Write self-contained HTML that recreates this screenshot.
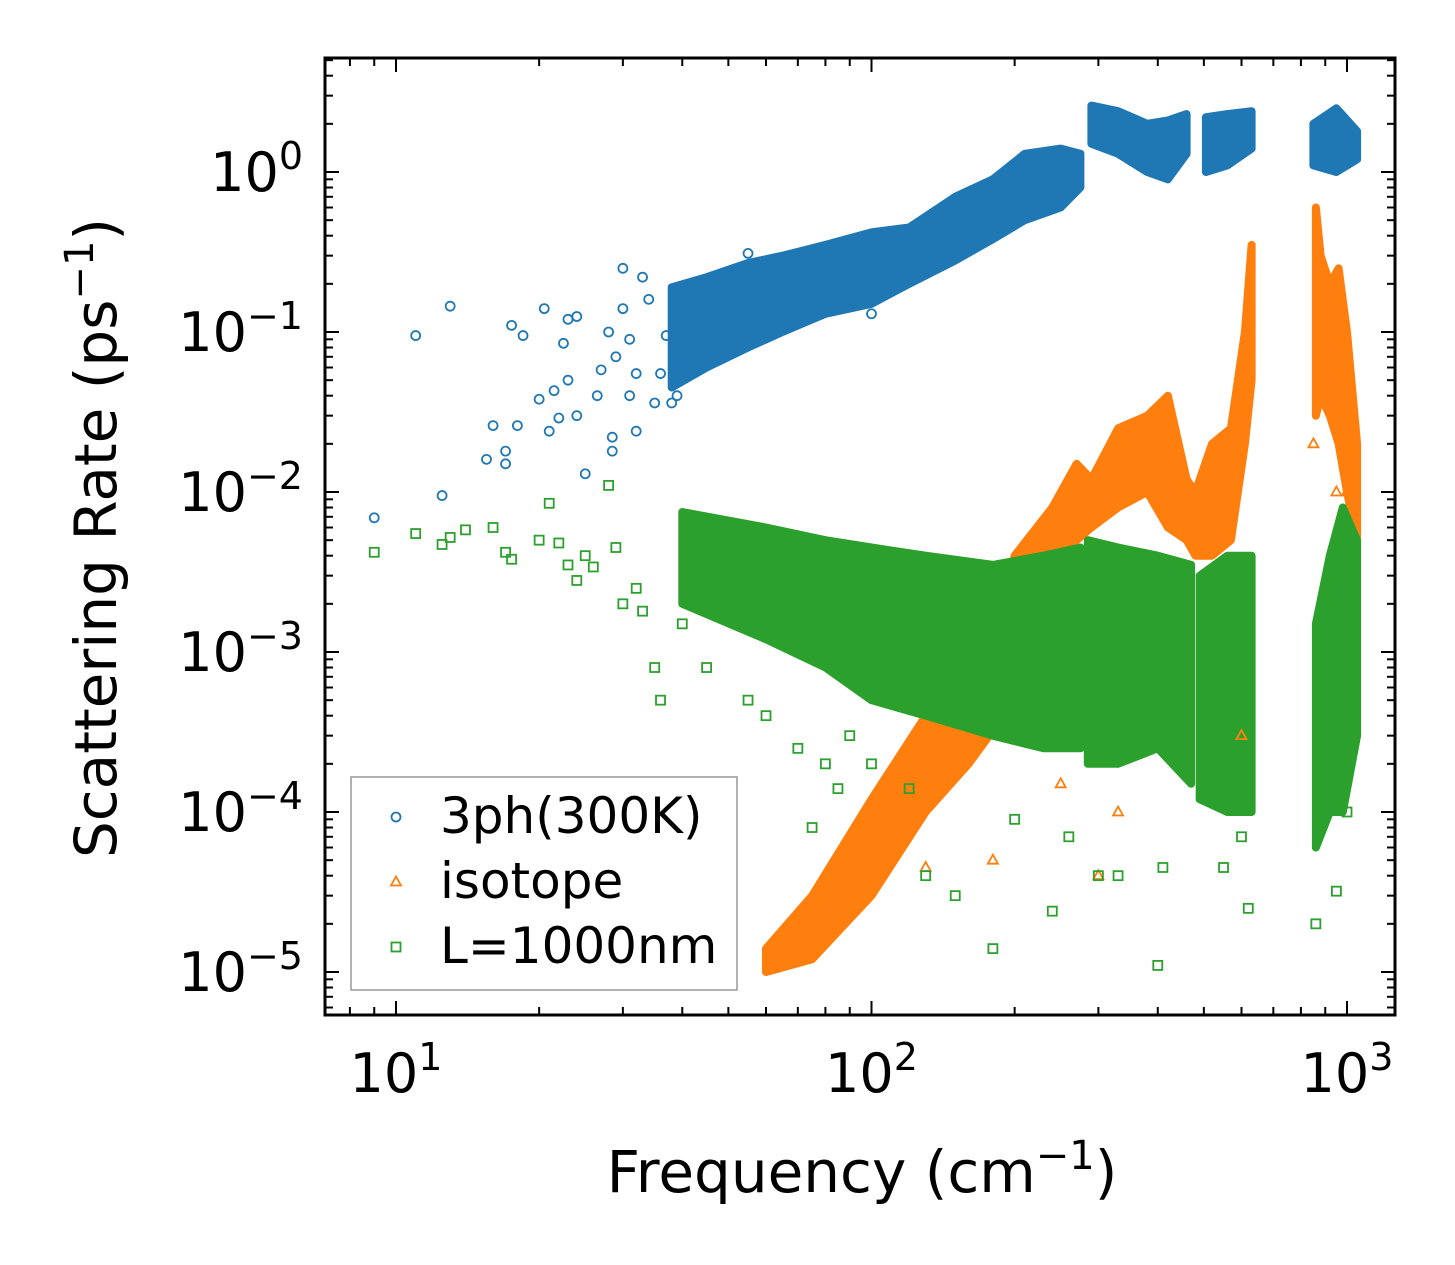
<!DOCTYPE html>
<html><head><meta charset="utf-8"><style>
html,body{margin:0;padding:0;background:#fff;}
svg{display:block;font-family:"DejaVu Sans","Liberation Sans",sans-serif;}
</style></head>
<body>
<svg id="chart" width="1455" height="1265" viewBox="0 0 1455 1265" xmlns="http://www.w3.org/2000/svg">
<rect width="1455" height="1265" fill="#fff"/>
<g id="bands"></g>
<g id="points"></g>
<g id="axes"></g>
<g id="legend"></g>
</svg>
<script>
// ---- data (frequency cm^-1, rate ps^-1) ----
const blueBands = [
  [[38,0.045,0.19],[45,0.06,0.22],[55,0.08,0.27],[65,0.1,0.3],[80,0.13,0.35],[100,0.15,0.42],[120,0.2,0.45],[150,0.28,0.7],[180,0.38,0.9],[210,0.5,1.3],[250,0.6,1.4],[275,0.8,1.3]],
  [[290,1.5,2.6],[330,1.3,2.4],[380,1.0,2.0],[420,0.9,2.1],[460,1.3,2.3]],
  [[505,1.0,2.2],[560,1.1,2.3],[630,1.4,2.4]],
  [[850,1.1,2.0],[950,1.0,2.5],[1050,1.2,1.8]]
];
const orangeBands = [
  [[60,0.00001,0.000014],[75,0.000012,0.00003],[100,0.00003,0.00012],[130,0.0001,0.0004],[160,0.0002,0.0008],[190,0.0004,0.0015],[200,0.002,0.004],[240,0.003,0.008],[270,0.005,0.015],[290,0.006,0.012],[330,0.008,0.025],[380,0.01,0.03],[420,0.006,0.04],[460,0.005,0.012],[480,0.004,0.01],[520,0.004,0.02],[570,0.005,0.025],[610,0.02,0.1],[630,0.05,0.35]],
  [[860,0.03,0.6],[880,0.04,0.3],[920,0.03,0.2],[960,0.02,0.25],[1000,0.01,0.1],[1050,0.005,0.02]]
];
const greenBands = [
  [[40,0.002,0.0075],[60,0.0012,0.006],[80,0.0008,0.005],[100,0.0005,0.0045],[130,0.0004,0.004],[180,0.0003,0.0035],[230,0.00025,0.004],[275,0.00025,0.0045]],
  [[285,0.0002,0.005],[330,0.0002,0.0045],[400,0.00025,0.004],[470,0.00015,0.0035]],
  [[490,0.00012,0.003],[560,0.0001,0.004],[630,0.0001,0.004]],
  [[860,0.00006,0.0015],[920,0.0001,0.004],[980,0.0001,0.008],[1050,0.0003,0.005]]
];
const blueF = [9,11,12.5,13,15.5,16,17,17,17.5,18.5,18,20,20.5,21,21.5,22,22.5,23,23,24,24,25,26.5,27,28,28.5,28.5,29,30,30,31,31,32,32,33,34,35,36,37,38,39,40,45,55,100];
const blueR = [0.0069,0.095,0.0095,0.145,0.016,0.026,0.018,0.015,0.11,0.095,0.026,0.038,0.14,0.024,0.043,0.029,0.085,0.12,0.05,0.03,0.125,0.013,0.04,0.058,0.1,0.022,0.018,0.07,0.25,0.14,0.04,0.09,0.055,0.024,0.22,0.16,0.036,0.055,0.095,0.036,0.04,0.065,0.07,0.31,0.13];
const orangeF = [130,300,330,600,950,1000,850,180,250];
const orangeR = [0.000045,0.00004,0.0001,0.0003,0.01,0.01,0.02,0.00005,0.00015];
const greenF = [9,11,12.5,13,14,16,17,17.5,20,21,22,23,24,25,26,28,29,30,32,33,35,36,40,45,55,60,70,75,80,85,90,100,120,130,150,180,200,240,260,300,330,400,410,550,600,620,860,950,1000];
const greenR = [0.0042,0.0055,0.0047,0.0052,0.0058,0.006,0.0042,0.0038,0.005,0.0085,0.0048,0.0035,0.0028,0.004,0.0034,0.011,0.0045,0.002,0.0025,0.0018,0.0008,0.0005,0.0015,0.0008,0.0005,0.0004,0.00025,0.00008,0.0002,0.00014,0.0003,0.0002,0.00014,0.00004,0.00003,0.000014,0.00009,0.000024,0.00007,0.00004,0.00004,0.000011,0.000045,0.000045,0.00007,0.000025,0.00002,0.000032,0.0001];
const xTickVals = [10,100,1000];
const xTickExp = ["1","2","3"];
const yTickVals = [1,0.1,0.01,0.001,0.0001,0.00001];
const yTickExp = ["0","\u22121","\u22122","\u22123","\u22124","\u22125"];

// ---- axes ----
const L=325,R=1395,T=58,B=1015;
const X=f=>396+(Math.log10(f)-1)*475.5;
const Y=v=>172-Math.log10(v)*160;
const NS="http://www.w3.org/2000/svg";
function mk(tag,attrs,parent){const e=document.createElementNS(NS,tag);for(const k in attrs)e.setAttribute(k,attrs[k]);parent.appendChild(e);return e;}
const C={b:"#1f77b4",o:"#ff7f0e",g:"#2ca02c"};

const bandsG=document.getElementById('bands');
function drawBands(bands,color,name){
  bands.forEach((seg,i)=>{
    let d="M"+seg.map(p=>X(p[0]).toFixed(1)+","+Y(p[2]).toFixed(1)).join("L");
    d+="L"+seg.slice().reverse().map(p=>X(p[0]).toFixed(1)+","+Y(p[1]).toFixed(1)).join("L")+"Z";
    const e=mk('path',{d:d,fill:color,stroke:color,'stroke-width':8,'stroke-linejoin':'round'},bandsG);
    
    
  });
}
const ptsG=document.getElementById('points');
function marker(kind,x,y,parent){
  let e;
  if(kind==='b') e=mk('circle',{cx:x,cy:y,r:4.5,fill:'none',stroke:C.b,'stroke-width':1.8},parent);
  else if(kind==='o') e=mk('path',{d:`M${x},${y-5.5}L${x+5},${y+3.5}L${x-5},${y+3.5}Z`,fill:'none',stroke:C.o,'stroke-width':1.8},parent);
  else e=mk('rect',{x:x-4.5,y:y-4.5,width:9,height:9,fill:'none',stroke:C.g,'stroke-width':1.8},parent);
  return e;
}
drawBands(blueBands,C.b,'3ph');
blueF.forEach((f,i)=>{const e=marker('b',X(f),Y(blueR[i]),ptsG);
  
  });
drawBands(orangeBands,C.o,'isotope');
orangeF.forEach((f,i)=>{const e=marker('o',X(f),Y(orangeR[i]),ptsG);
  
  });
drawBands(greenBands,C.g,'boundary');
greenF.forEach((f,i)=>{const e=marker('g',X(f),Y(greenR[i]),ptsG);
  
  });

// axes frame and ticks
const ax=document.getElementById('axes');
mk('rect',{x:L,y:T,width:R-L,height:B-T,fill:'none',stroke:'#000','stroke-width':3},ax);
for(let d=0;d<=3;d++){for(let m=1;m<10;m++){const f=m*Math.pow(10,d);const x=X(f);if(x<L||x>R)continue;
  const len=m===1?14:8;
  mk('line',{x1:x,x2:x,y1:B,y2:B-len,stroke:'#000','stroke-width':2},ax);
  mk('line',{x1:x,x2:x,y1:T,y2:T+len,stroke:'#000','stroke-width':2},ax);}}
for(let d=-6;d<=1;d++){for(let m=1;m<10;m++){const v=m*Math.pow(10,d);const y=Y(v);if(y<T||y>B)continue;
  const len=m===1?14:8;
  mk('line',{x1:L,x2:L+len,y1:y,y2:y,stroke:'#000','stroke-width':2},ax);
  mk('line',{x1:R,x2:R-len,y1:y,y2:y,stroke:'#000','stroke-width':2},ax);}}
xTickVals.forEach((v,i)=>{const t=mk('text',{x:X(v),y:1092,'font-size':54,'text-anchor':'middle'},ax);
  
  
  t.innerHTML='10<tspan dy="-22" font-size="38">'+xTickExp[i]+'</tspan>';});
yTickVals.forEach((v,i)=>{const t=mk('text',{x:303,y:Y(v)+19,'font-size':54,'text-anchor':'end'},ax);
  
  
  t.innerHTML='10<tspan dy="-22" font-size="38">'+yTickExp[i]+'</tspan>';});
const xt=mk('text',{x:862,y:1192,'font-size':58,'text-anchor':'middle'},ax);


xt.innerHTML='Frequency (cm<tspan dy="-23" font-size="40">\u22121</tspan><tspan dy="23">)</tspan>';
const yt=mk('text',{x:0,y:0,'font-size':58,'text-anchor':'middle',transform:'translate(116,538) rotate(-90)'},ax);


yt.innerHTML='Scattering Rate (ps<tspan dy="-23" font-size="40">\u22121</tspan><tspan dy="23">)</tspan>';

// legend
const lg=document.getElementById('legend');
mk('rect',{x:351,y:777,width:386,height:213,fill:'#fff','fill-opacity':0.8,stroke:'#999','stroke-width':1.5},lg);
[['b','3ph(300K)',815],['o','isotope',880],['g','L=1000nm',945]].forEach(en=>{
  const g=mk('g',{},lg);
  
  
  marker(en[0],396,en[2]+2,g);
  const t=mk('text',{x:440,y:en[2]+18,'font-size':50},g);t.textContent=en[1];
});
</script>
</body></html>
